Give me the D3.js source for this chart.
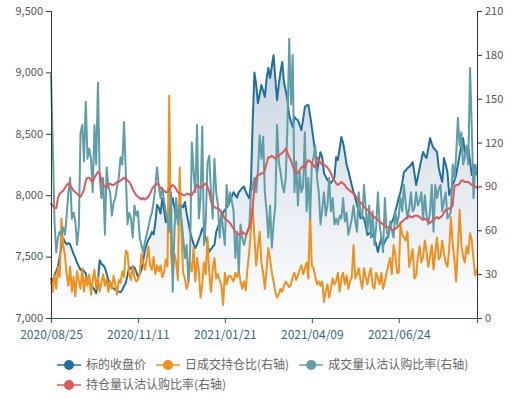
<!DOCTYPE html>
<html>
<head>
<meta charset="utf-8">
<script src="https://cdn.jsdelivr.net/npm/d3@7/dist/d3.min.js"></script>
<style>
  html, body { margin: 0; padding: 0; background: #fff; }
  svg { display: block; }
  text { font-family: "Noto Sans CJK SC", "Noto Sans", sans-serif; }
</style>
</head>
<body>
<svg id="chart" width="515" height="398"></svg>
<script>
// ---- data ----
const tickIndex = [0, 50, 100, 150, 200];
const tickLabels = ["2020/08/25", "2020/11/11", "2021/01/21", "2021/04/09", "2021/06/24"];
const leftTicks = [7000, 7500, 8000, 8500, 9000, 9500];
const rightTicks = [0, 30, 60, 90, 120, 150, 180, 210];
const seriesNames = ["标的收盘价", "日成交持仓比(右轴)", "成交量认沽认购比率(右轴)", "持仓量认沽认购比率(右轴)"];

const closePrice = [
 7320,7300,7350,7380,7420,7500,7580,7650,7620,7600,
 7610,7600,7560,7520,7490,7450,7420,7390,7400,7380,
 7365,7285,7300,7270,7250,7230,7200,7300,7470,7440,
 7430,7410,7360,7310,7270,7250,7240,7230,7220,7215,
 7210,7230,7260,7285,7350,7415,7400,7420,7410,7380,
 7335,7360,7390,7470,7550,7600,7640,7660,7700,7680,
 7775,7920,7900,7850,7975,7880,7780,7800,7860,7920,
 7975,7900,7815,7860,7880,7920,7900,7945,7850,7780,
 7700,7650,7600,7570,7600,7640,7680,7730,7700,7650,
 7600,7540,7560,7580,7595,7700,7740,7780,7820,7860,
 7880,7900,7920,7960,7990,8025,8000,7980,8025,8040,
 8060,8070,8030,8000,7975,8100,8600,9000,8900,8750,
 8820,8897,8850,8800,8950,9036,8955,9050,9140,8950,
 8775,8900,9003,9085,8920,8850,8775,8650,8600,8555,
 8637,8620,8612,8570,8530,8620,8718,8730,8735,8650,
 8555,8450,8345,8180,8280,8350,8311,8180,8150,8124,
 8110,8100,8120,8148,8311,8287,8380,8474,8425,8345,
 8250,8200,8140,8080,8026,7980,7920,7870,7814,7830,
 7814,7750,7676,7690,7700,7670,7650,7600,7537,7600,
 7650,7594,7620,7650,7676,7757,7780,7814,7870,7920,
 7980,8026,8100,8189,8200,8221,8230,8246,8270,8180,
 8083,8150,8221,8290,8352,8320,8303,8380,8465,8420,
 8384,8370,8352,8221,8160,8107,8303,8250,8189,8002,
 8040,8083,8120,8164,8250,8327,8400,8465,8352,8370,
 8384,8280,8164,8246,8164,8200
];
const volOiRatio = [
 25,18,30,20,35,28,68,50,43,30,
 22,35,18,28,15,32,25,20,34,18,
 28,22,30,16,26,33,20,28,18,24,
 30,22,27,18,25,20,29,23,16,26,
 24,32,28,46,45,30,26,35,28,25,
 26,30,44,38,33,40,49,36,33,42,
 30,36,32,36,28,31,40,35,152,44,
 30,44,38,26,103,58,31,27,20,24,
 38,32,48,25,41,33,14,23,38,30,
 55,31,18,33,41,27,30,26,22,9,
 31,23,28,29,27,25,31,28,32,25,
 20,25,19,34,45,62,77,55,36,48,
 59,38,31,20,34,48,40,31,25,18,
 14,16,20,18,22,25,23,21,23,28,
 31,26,29,33,36,30,34,38,27,73,
 36,34,28,23,25,22,25,11,18,23,
 14,20,27,23,25,31,18,27,31,23,
 29,20,25,28,50,27,30,34,26,20,
 34,28,23,30,34,22,20,31,27,23,
 31,20,25,31,36,41,30,50,44,31,
 31,64,57,55,53,59,35,41,47,27,
 29,42,49,38,42,53,45,35,42,50,
 33,45,55,40,42,53,44,38,35,47,
 69,51,40,25,48,74,50,42,38,49,
 44,58,53,40,29,33
];
const volPcRatio = [
 166,120,66,45,55,59,57,62,57,70,
 86,96,68,72,66,50,62,127,132,107,
 148,109,116,109,86,132,105,161,96,82,
 96,57,103,90,86,70,79,82,90,96,
 110,105,134,100,64,72,68,55,77,70,
 73,55,50,45,52,57,62,68,72,79,
 90,103,90,82,89,80,73,66,59,86,
 18,60,82,64,77,68,55,41,50,25,
 45,120,100,86,132,68,82,131,50,66,
 106,111,86,68,109,86,77,55,73,60,
 50,91,77,86,80,73,41,59,31,64,
 55,50,55,60,62,86,90,96,86,100,
 125,109,124,86,73,55,77,48,65,77,
 132,107,100,91,86,96,132,191,146,180,
 86,107,77,100,86,90,127,73,96,68,
 105,110,118,96,86,64,75,86,70,77,
 96,73,82,64,68,64,70,68,82,66,
 72,57,62,68,77,66,59,86,72,68,
 91,75,59,77,55,73,50,62,86,64,
 55,45,82,60,55,66,60,55,73,64,
 70,82,73,91,78,68,75,86,73,75,
 86,77,80,86,68,84,70,64,73,91,
 59,91,82,88,91,73,80,86,68,70,
 73,105,96,111,137,118,127,105,110,118,
 105,171,130,82,105,100
];
const oiPcRatio = [
 78,77,75,75,82,85,86,87,89,91,
 92,91,89,87,86,85,84,83,85,88,
 94,96,96,94,93,96,98,100,99,94,
 91,90,89,91,92,91,91,92,93,93,
 94,95,96,95,94,93,91,88,86,84,
 83,82,81,82,81,82,83,85,88,90,
 91,92,91,89,88,87,86,86,88,90,
 91,90,88,86,85,85,84,84,85,85,
 84,84,86,89,91,90,89,90,91,92,
 90,86,80,77,76,75,75,74,72,70,
 68,67,66,65,63,61,59,58,57,58,
 59,58,57,59,62,66,75,90,96,98,
 98,99,99,101,106,110,110,111,110,109,
 111,111,112,113,114,116,113,110,108,104,
 101,100,99,101,103,104,103,106,108,107,
 106,104,103,110,108,106,105,105,104,103,
 101,99,96,94,92,91,92,93,92,91,
 89,88,87,86,85,84,82,80,79,78,
 76,75,74,73,71,70,69,68,67,66,
 65,64,63,62,62,61,60,60,61,62,
 63,65,66,67,68,69,70,69,69,70,
 70,70,69,68,67,68,67,66,65,66,
 68,68,69,68,69,70,72,74,74,75,
 75,77,90,91,91,92,94,94,93,93,
 93,92,91,91,90,89
];

// ---- layout ----
const colors = ["#21709c", "#f0901f", "#5f9ea6", "#da5a5c"];
const svg = d3.select("#chart");
const L = 51, R = 477, T = 11, B = 318;
const n = closePrice.length;

const x = d3.scaleLinear().domain([0, n - 1]).range([L, R]);
const yL = d3.scaleLinear().domain([7000, 9500]).range([B, T]);
const yR = d3.scaleLinear().domain([0, 210]).range([B, T]);

// gradient for close price area
const defs = svg.append("defs");
const grad = defs.append("linearGradient").attr("id", "areaGrad")
  .attr("gradientUnits", "userSpaceOnUse")
  .attr("x1", 0).attr("x2", 0).attr("y1", yL(d3.max(closePrice))).attr("y2", B);
grad.append("stop").attr("offset", 0).attr("stop-color", "#c8d5e0");
grad.append("stop").attr("offset", 1).attr("stop-color", "#ffffff");

const area = d3.area().x((d, i) => x(i)).y0(B).y1(d => yL(d));
svg.append("path").datum(closePrice).attr("d", area).attr("fill", "url(#areaGrad)");

function drawLine(data, yScale, color) {
  svg.append("path").datum(data)
    .attr("d", d3.line().x((d, i) => x(i)).y(d => yScale(d)))
    .attr("fill", "none").attr("stroke", color).attr("stroke-width", 2)
    .attr("stroke-linejoin", "round").attr("stroke-linecap", "round");
}
drawLine(closePrice, yL, colors[0]);
drawLine(volOiRatio, yR, colors[1]);
drawLine(volPcRatio, yR, colors[2]);
drawLine(oiPcRatio, yR, colors[3]);

// ---- axes ----
const gl = svg.append("g").attr("transform", `translate(${L},0)`)
  .call(d3.axisLeft(yL).tickValues(leftTicks).tickFormat(d3.format(",")).tickSize(5).tickPadding(3));
const gr = svg.append("g").attr("transform", `translate(${R},0)`)
  .call(d3.axisRight(yR).tickValues(rightTicks).tickSize(5).tickPadding(3));
const gx = svg.append("g").attr("transform", `translate(0,${B})`)
  .call(d3.axisBottom(x).tickValues(tickIndex).tickFormat((d, i) => tickLabels[i]).tickSize(5).tickPadding(7));

[gl, gr].forEach(g => {
  g.select(".domain").attr("stroke", "#333").attr("stroke-width", 1);
  g.selectAll(".tick line").attr("stroke", "#333");
  g.selectAll(".tick text").attr("fill", "#555").style("font-size", "11px");
});
gl.selectAll(".tick text").attr("dy", "0.3em");
gx.select(".domain").attr("stroke", "#36596a").attr("stroke-width", 1.2);
gx.selectAll(".tick line").attr("stroke", "#36596a");
gx.selectAll(".tick text").attr("fill", "#35677e").style("font-size", "12px");

// ---- legend ----
const rows = [[0, 1, 2], [3]];
const rowY = [365, 385];
rows.forEach((row, ri) => {
  let cx = 57;
  row.forEach(si => {
    const g = svg.append("g");
    g.append("line").attr("x1", cx).attr("x2", cx + 24).attr("y1", rowY[ri]).attr("y2", rowY[ri])
      .attr("stroke", colors[si]).attr("stroke-width", 2).attr("stroke-opacity", 0.75);
    g.append("circle").attr("cx", cx + 12).attr("cy", rowY[ri]).attr("r", 5).attr("fill", colors[si]);
    const t = g.append("text").attr("x", cx + 29).attr("y", rowY[ri]).attr("dy", "0.35em")
      .attr("fill", "#666").style("font-size", "12px").text(seriesNames[si]);
    cx += 29 + t.node().getComputedTextLength() + 10;
  });
});
</script>
</body>
</html>
